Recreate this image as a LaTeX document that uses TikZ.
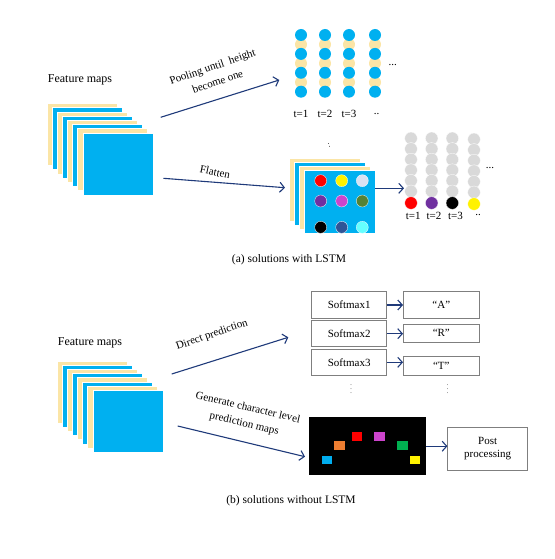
\documentclass[tikz,border=0pt]{standalone}
\usepackage{fontspec}
\setmainfont{Liberation Serif}
\usetikzlibrary{arrows.meta}
\definecolor{beige}{HTML}{FBE5A6}
\definecolor{skyb}{HTML}{00B0F0}
\definecolor{navy}{HTML}{1F3A7A}
\definecolor{boxgray}{HTML}{7F7F7F}
\definecolor{lgray}{HTML}{D9D9D9}
\definecolor{lav}{HTML}{D9E1F2}
\definecolor{purp}{HTML}{7030A0}
\definecolor{mag}{HTML}{CC44CC}
\definecolor{dgreen}{HTML}{548235}
\definecolor{dblue}{HTML}{2F5597}
\definecolor{lcyan}{HTML}{66FFFF}
\definecolor{orng}{HTML}{ED7D31}
\definecolor{grn}{HTML}{00B050}
\begin{document}
\begin{tikzpicture}[x=1pt,y=-1pt,font=\fontsize{11}{13}\selectfont,
  arr/.style={draw=navy,line width=1.1pt,-{Straight Barb[length=4.5pt,width=10pt,line width=1.1pt]}},
  box/.style={draw=boxgray,line width=0.6pt,minimum width=75pt,inner sep=0pt},
  layer/.style={draw=white,line width=0.3pt},
  dot/.style={draw=white,line width=0.3pt},
  captext/.style={font=\fontsize{11.5}{13}\selectfont},
  fmtext/.style={font=\fontsize{12}{14}\selectfont}]
\useasboundingbox (0,0) rectangle (554,559);

% ---------- (a) ----------
\node[fmtext] (fma) at (80,80) {Feature maps};
\foreach \i in {0,...,7}{
  \pgfmathsetmacro{\xx}{47.3+5.05*\i}
  \pgfmathsetmacro{\yy}{103.3+4.2*\i}
  \pgfmathtruncatemacro{\odd}{mod(\i,2)}
  \ifnum\odd=0 \def\lc{beige}\else\def\lc{skyb}\fi
  \fill[\lc,layer] (\xx,\yy) rectangle ++(70,62);
}
\coordinate (p0) at (160.7,117.3);
\coordinate (p1) at (279.3,80);
\draw[arr] (p0) -- (p1);
\node[rotate=19,align=center] (plab) at (215,74) {Pooling until\ \ height\\[3pt]become one};

\coordinate (f0) at (163.3,178.3);
\coordinate (f1) at (285,187.7);
\draw[arr] (f0) -- (f1);
\node[rotate=-12] (flab) at (215,172) {Flatten};

% pooled columns
\foreach \x in {301,325,349,375}{
  \foreach \k in {1,3,5}{
    \fill[beige] (\x,35+9.45*\k) circle[radius=6];
  }
  \foreach \k in {0,2,4,6}{
    \fill[skyb] (\x,35+9.45*\k) circle[radius=6];
  }
}
\node (dd1) at (392.7,65) {...};
\node (t1) at (301,114) {t=1};
\node (t2) at (325,114) {t=2};
\node (t3) at (349,114) {t=3};
\node (tdd) at (376.7,114) {..};
\node[font=\fontsize{8}{8}\selectfont,rotate=20] (colon) at (329,145) {:};

% flatten stack
\foreach \i in {0,...,3}{
  \pgfmathsetmacro{\xx}{289+5*\i}
  \pgfmathsetmacro{\yy}{158+4*\i}
  \pgfmathtruncatemacro{\odd}{mod(\i,2)}
  \ifnum\odd=0 \def\lc{beige}\else\def\lc{skyb}\fi
  \fill[\lc,layer] (\xx,\yy) rectangle ++(71,63);
}
\fill[red,dot] (320.7,180.7) circle[radius=6];
\fill[yellow,dot] (341.7,180.7) circle[radius=6];
\fill[lav,dot] (362.3,180.7) circle[radius=6];
\fill[purp,dot] (320.7,201) circle[radius=6];
\fill[mag,dot] (341.7,201) circle[radius=6];
\fill[dgreen,dot] (362.3,201) circle[radius=6];
\fill[black,dot] (320.7,227.3) circle[radius=6];
\fill[dblue,dot] (341.7,227.3) circle[radius=6];
\fill[lcyan,dot] (362.3,227.3) circle[radius=6];

\coordinate (fl0) at (375,188.3);
\coordinate (fl1) at (404,188.3);
\draw[arr] (fl0) -- (fl1);

% gray columns
\foreach \x/\c/\off in {411/red/0,431.7/purp/0,452.3/black/0,474/yellow/1}{
  \foreach \k in {0,...,5}{
    \fill[lgray,dot] (\x,138.3+\off+10.6*\k) circle[radius=6.3];
  }
  \fill[\c,dot] (\x,203+\off) circle[radius=6.3];
}
\node (dd2) at (490,168) {...};
\node (u1) at (413.3,216) {t=1};
\node (u2) at (434,216) {t=2};
\node (u3) at (455.5,216) {t=3};
\node (udd) at (478,215) {..};

\node[captext] (capa) at (289,260) {(a) solutions with LSTM};

% ---------- (b) ----------
\node[fmtext] (fmb) at (90,343) {Feature maps};
\foreach \i in {0,...,7}{
  \pgfmathsetmacro{\xx}{57.3+5.05*\i}
  \pgfmathsetmacro{\yy}{360.7+4.2*\i}
  \pgfmathtruncatemacro{\odd}{mod(\i,2)}
  \ifnum\odd=0 \def\lc{beige}\else\def\lc{skyb}\fi
  \fill[\lc,layer] (\xx,\yy) rectangle ++(70,62);
}
\coordinate (d0) at (171.7,374);
\coordinate (d1) at (288.3,337.3);
\draw[arr] (d0) -- (d1);
\node[rotate=19] (dlab) at (212,335) {Direct prediction};

\coordinate (g0) at (177.7,426);
\coordinate (g1) at (305,456.7);
\draw[arr] (g0) -- (g1);
\node[rotate=-13,align=center] (glab) at (246,416) {Generate character level\\[3pt]prediction maps};

\node[box,minimum height=26.6pt] (s1) at (349.2,305) {Softmax1};
\node[box,minimum height=26pt] (s2) at (349.2,333.7) {Softmax2};
\node[box,minimum height=26.6pt] (s3) at (349.2,362.3) {Softmax3};
\node[box,minimum width=76pt,minimum height=26.6pt] (r1) at (441.3,305) {“A”};
\node[box,minimum width=76pt,minimum height=18.7pt] (r2) at (441.3,333.3) {“R”};
\node[box,minimum width=76pt,minimum height=18.3pt] (r3) at (441.3,365.8) {“T”};
\draw[arr] (s1.east) -- (s1.east -| r1.west);
\draw[arr] (s2.east) -- (s2.east -| r2.west);
\draw[arr] (s3.east) -- (s3.east -| r3.west);
\node[font=\fontsize{6}{6}\selectfont] (v1) at (351,386.7) {$\vdots$};
\node[font=\fontsize{6}{6}\selectfont] (v2) at (447.7,386.7) {$\vdots$};

\node[fill=black,minimum width=116.4pt,minimum height=57.7pt,inner sep=0pt] (map) at (367.5,446.2) {};
\fill[cyan] (321.7,455.7) rectangle (332.3,464);
\fill[orng] (334,441.3) rectangle (344.7,449.7);
\fill[red] (351.7,432.3) rectangle (362,440.7);
\fill[mag] (374,432.3) rectangle (385,440.7);
\fill[grn] (397,441.3) rectangle (407.7,449.7);
\fill[yellow] (409.7,455.7) rectangle (420.3,464);

\node[box,minimum width=80pt,minimum height=42.7pt,align=center] (post) at (487.7,448.7) {Post\\processing};
\draw[arr] (map.east) -- (map.east -| post.west);

\node[captext] (capb) at (291,501) {(b) solutions without LSTM};
\end{tikzpicture}
\end{document}
